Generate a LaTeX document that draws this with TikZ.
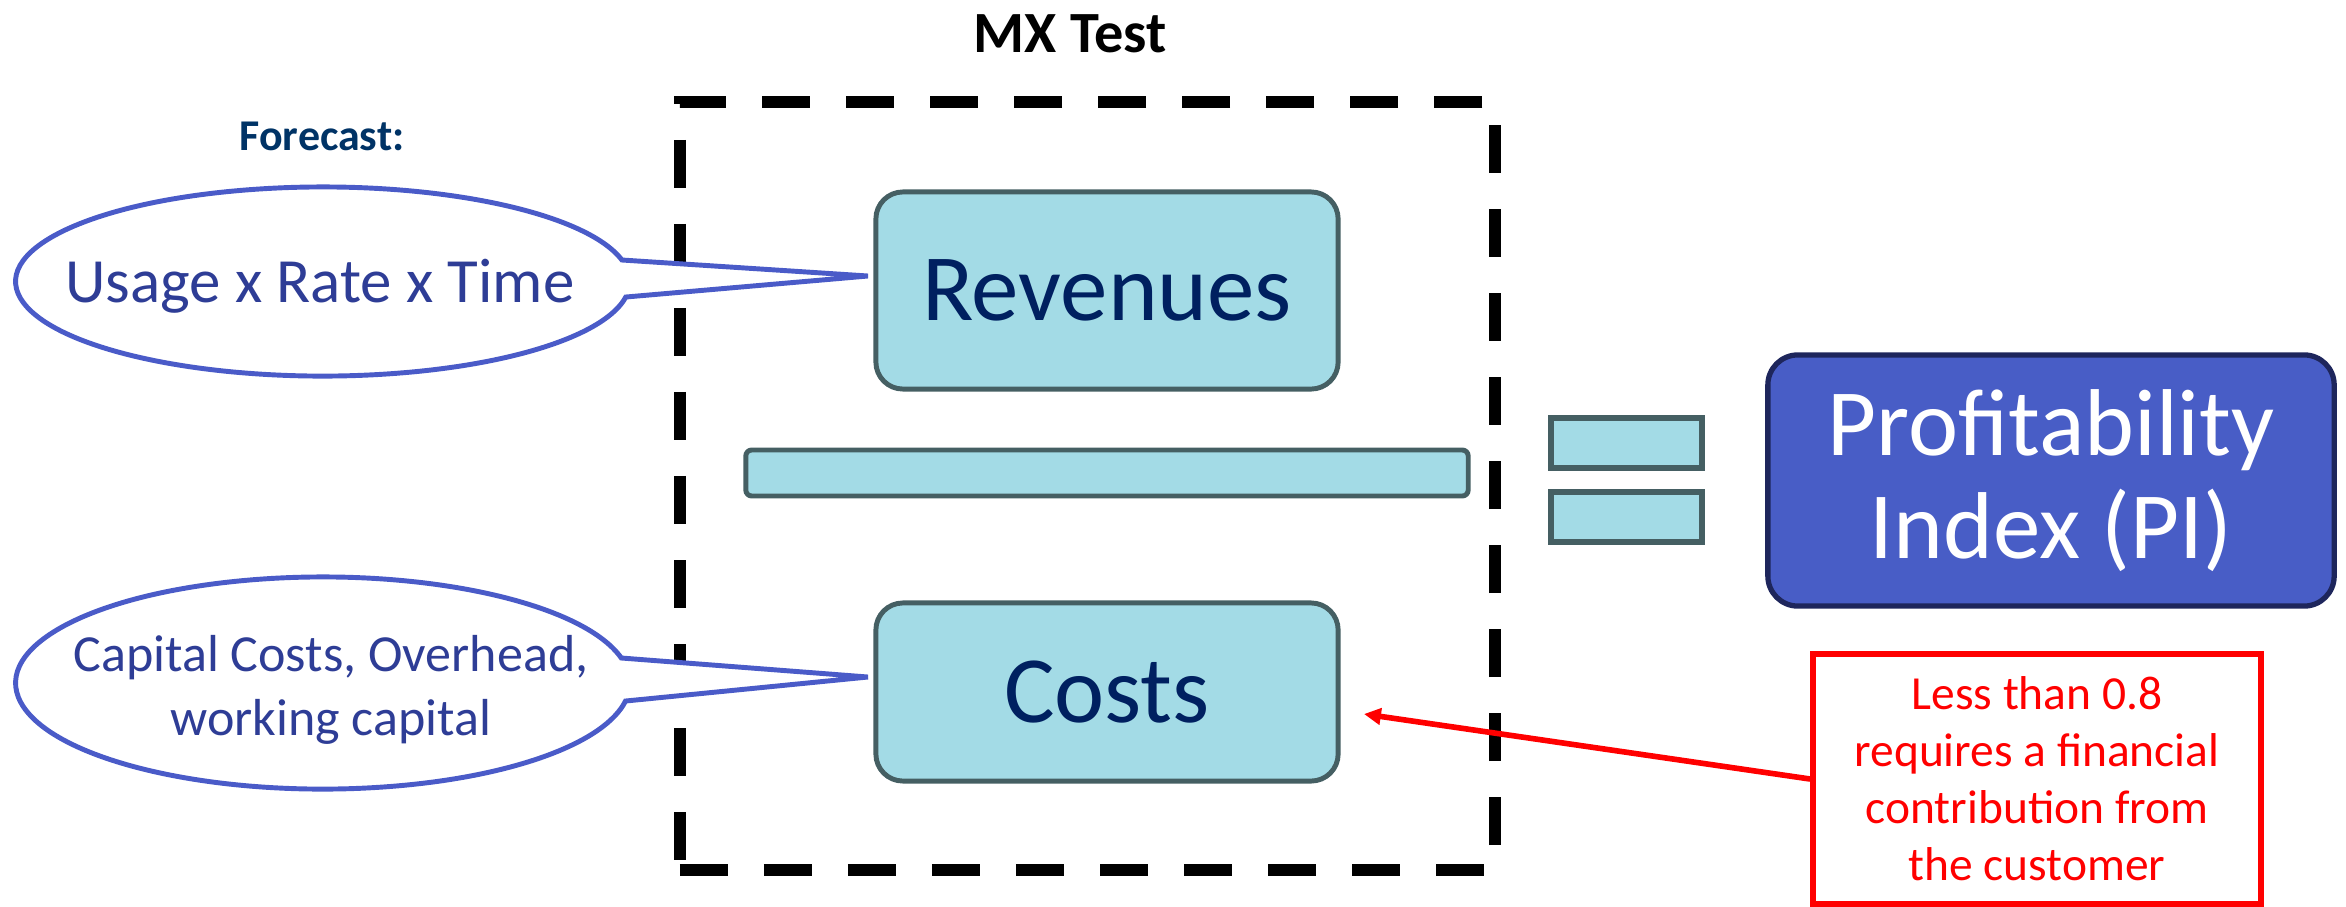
\documentclass[tikz,border=0pt]{standalone}
\usepackage{fontspec}
\setmainfont{Carlito}
\usetikzlibrary{shapes.geometric,arrows.meta}
\definecolor{boxfill}{RGB}{163,219,230}
\definecolor{boxline}{RGB}{69,95,99}
\definecolor{navy}{RGB}{0,32,96}
\definecolor{fcast}{RGB}{0,51,102}
\definecolor{callline}{RGB}{74,91,200}
\definecolor{calltext}{RGB}{46,61,150}
\definecolor{pifill}{RGB}{72,93,198}
\definecolor{piline}{RGB}{30,38,92}
\definecolor{warnred}{RGB}{255,0,0}
\begin{document}
\begin{tikzpicture}[x=0.01cm,y=-0.01cm,
  termbox/.style={draw=boxline, fill=boxfill, line width=1.4pt, rounded corners=0.27cm, minimum width=4.62cm, inner sep=0pt, text=navy, font=\fontsize{27}{32}\selectfont},
  callshape/.style={draw=callline, line width=1.4pt, fill=white, line join=miter},
  calltxt/.style={text=calltext, align=center, inner sep=0pt},
  eqbar/.style={draw=boxline, fill=boxfill, line width=1.5pt, minimum width=1.51cm, minimum height=0.50cm, inner sep=0pt},
]
\useasboundingbox (0,0) rectangle (2346,906);

% title
\node[anchor=base, font=\bfseries\fontsize{16.6}{20}\selectfont] (title) at (1070,52) {MX Test};

% dashed frame
\node[draw, line width=3.4pt, dash pattern=on 13.66pt off 10.24pt, minimum width=8.15cm, minimum height=7.68cm, inner sep=0pt] (mx) at (1087.5,486) {};

% fraction
\node[termbox, minimum height=1.97cm] (rev) at (1107,290.5) {Revenues};
\node[draw=boxline, fill=boxfill, line width=1.4pt, rounded corners=0.06cm, minimum width=7.22cm, minimum height=0.46cm, inner sep=0pt] (bar) at (1107,473) {};
\node[termbox, minimum height=1.78cm] (cost) at (1107,692) {Costs};

% equals
\node[eqbar] (eq1) at (1626.5,443) {};
\node[eqbar] (eq2) at (1626.5,517) {};

% PI
\node[draw=piline, fill=pifill, line width=1.5pt, rounded corners=0.3cm, minimum width=5.66cm, minimum height=2.51cm, text=white, align=center, font=\fontsize{27}{29.3}\selectfont] (pi) at (2051,480.5) {Profitability\\Index (PI)};

% forecast label
\node[anchor=base, text=fcast, font=\bfseries\fontsize{12.5}{15}\selectfont] (fc) at (322,150) {Forecast:};

% callout 1
\coordinate (c1) at (323,281.5);
\coordinate (u1a) at (621.9,260);
\coordinate (u1t) at (868,276);
\draw[callshape] (u1a) arc[start angle=13.15, end angle=350.56, x radius=3.07cm, y radius=0.945cm] -- (u1t) -- cycle;
\node[calltxt, anchor=base, font=\fontsize{17.9}{21}\selectfont] (usage) at (320,302) {Usage x Rate x Time};

% callout 2
\coordinate (c2) at (323,683);
\coordinate (u2a) at (621.3,658);
\coordinate (u2t) at (868,677);
\draw[callshape] (u2a) arc[start angle=13.64, end angle=350.22, x radius=3.07cm, y radius=1.06cm] -- (u2t) -- cycle;
\node[calltxt, font=\fontsize{14.8}{18.2}\selectfont] (capc) at (331,690) {Capital Costs, Overhead,\\working capital};

% warning box
\node[draw=warnred, line width=1.6pt, minimum width=4.48cm, minimum height=2.5cm, inner sep=0pt, text=warnred, align=center, font=\fontsize{13.5}{16.2}\selectfont] (warn) at (2037,779) {Less than 0.8\\requires a financial\\contribution from\\the customer};
\coordinate (ctip) at (1364,714);
\draw[warnred, line width=1.6pt, -{Triangle[length=4.8pt,width=4.6pt]}] (warn.west) -- (ctip);
\end{tikzpicture}
\end{document}
